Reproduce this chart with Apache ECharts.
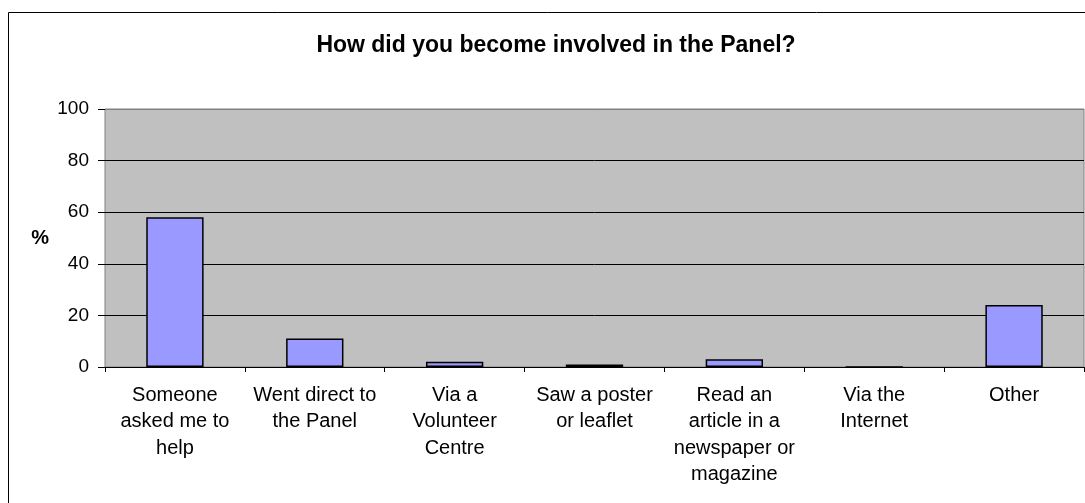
<!DOCTYPE html>
<html>
<head>
<meta charset="utf-8">
<style>
  html, body { margin: 0; padding: 0; background: #fff; }
  #chart { width: 1085px; height: 503px; }
</style>
<script src="https://cdn.jsdelivr.net/npm/echarts@6/dist/echarts.min.js"></script>
</head>
<body>
<div id="chart"></div>
<script>
// Survey answers: how respondents became involved in the Panel (%)
const categories = [
  'Someone\nasked me to\nhelp',
  'Went direct to\nthe Panel',
  'Via a\nVolunteer\nCentre',
  'Saw a poster\nor leaflet',
  'Read an\narticle in a\nnewspaper or\nmagazine',
  'Via the\nInternet',
  'Other'
];
const percentages = [58, 11, 2, 1, 3, 0, 24];
const yTicks = { min: 0, max: 100, interval: 20 };

const FONT = 'Liberation Sans, Arial, sans-serif';

const chart = echarts.init(document.getElementById('chart'), null, { renderer: 'canvas' });
chart.setOption({
  animation: false,
  backgroundColor: '#ffffff',
  title: {
    text: 'How did you become involved in the Panel?',
    left: 551,
    textAlign: 'center',
    top: 29,
    textStyle: { fontFamily: FONT, fontSize: 23, fontWeight: 'bold', color: '#000' }
  },
  graphic: [{
    type: 'rect',
    shape: { x: 8.5, y: 12.5, width: 1090, height: 500 },
    style: { fill: 'none', stroke: '#000', lineWidth: 1 },
    silent: true,
    z: -1
  }],
  grid: {
    left: 105, right: 1, top: 109, bottom: 136,
    show: true,
    backgroundColor: '#c0c0c0',
    borderColor: '#808080',
    borderWidth: 1
  },
  xAxis: {
    type: 'category',
    data: categories,
    axisLine: { lineStyle: { color: '#000', width: 1 } },
    axisTick: { show: true, length: 5, lineStyle: { color: '#000' } },
    axisLabel: {
      interval: 0,
      margin: 15,
      fontFamily: FONT,
      fontSize: 20,
      lineHeight: 26.5,
      color: '#000',
      align: 'center'
    }
  },
  yAxis: {
    type: 'value',
    min: yTicks.min,
    max: yTicks.max,
    interval: yTicks.interval,
    name: '%',
    nameLocation: 'middle',
    nameRotate: 0,
    nameGap: 56,
    nameTextStyle: { fontFamily: FONT, fontSize: 20, fontWeight: 'bold', color: '#000' },
    axisLine: { show: false },
    axisTick: { show: true, length: 7, lineStyle: { color: '#000' } },
    axisLabel: { margin: 16, fontFamily: FONT, fontSize: 19, color: '#000' },
    splitLine: {
      show: true,
      lineStyle: { color: ['#000', '#000', '#000', '#000', '#000', '#808080'], width: 1 }
    }
  },
  series: [{
    type: 'bar',
    data: percentages,
    barWidth: '41%',
    itemStyle: { color: '#9999ff', borderColor: '#000', borderWidth: 1.5 }
  }]
});
</script>
</body>
</html>
